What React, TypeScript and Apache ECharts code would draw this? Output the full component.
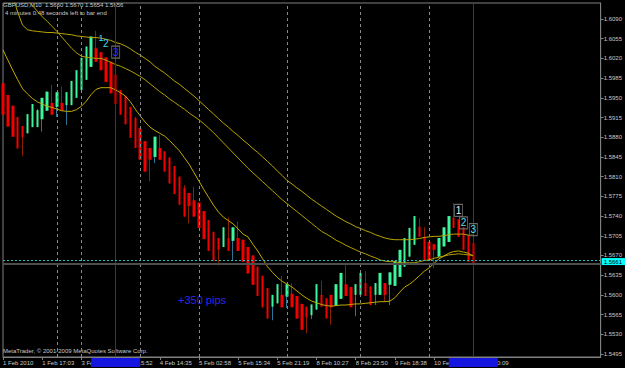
import React, { useEffect, useRef } from "react";
import * as echarts from "echarts";

// ---- data (GBPUSD, M10) ----
const opens = [1.5976,1.5955,1.5936,1.5916,1.5900,1.5887,1.5898,1.5898,1.5912,1.5927,1.5941,1.5934,1.5941,1.5937,1.5937,1.5950,1.5964,1.5982,1.6005,1.6038,1.6031,1.6022,1.6014,1.5991,1.5964,1.5953,1.5934,1.5914,1.5896,1.5873,1.5861,1.5845,1.5861,1.5855,1.5844,1.5829,1.5810,1.5790,1.5781,1.5768,1.5764,1.5749,1.5733,1.5712,1.5701,1.5685,1.5701,1.5696,1.5701,1.5698,1.5685,1.5670,1.5650,1.5634,1.5612,1.5579,1.5585,1.5600,1.5597,1.5602,1.5598,1.5584,1.5579,1.5564,1.5574,1.5600,1.5594,1.5600,1.5581,1.5593,1.5619,1.5614,1.5600,1.5600,1.5621,1.5615,1.5600,1.5600,1.5621,1.5618,1.5616,1.5632,1.5650,1.5668,1.5689,1.5721,1.5703,1.5694,1.5690,1.5668,1.5686,1.5694,1.5737,1.5734,1.5720,1.5706,1.5692];
const closes = [1.5920,1.5899,1.5881,1.5860,1.5880,1.5921,1.5939,1.5928,1.5950,1.5961,1.5920,1.5960,1.5927,1.5960,1.5980,1.5999,1.6021,1.6041,1.6059,1.6014,1.5999,1.5978,1.5958,1.5939,1.5920,1.5903,1.5879,1.5861,1.5840,1.5819,1.5840,1.5881,1.5840,1.5819,1.5798,1.5779,1.5760,1.5739,1.5758,1.5739,1.5719,1.5699,1.5678,1.5660,1.5680,1.5720,1.5678,1.5720,1.5678,1.5659,1.5638,1.5618,1.5598,1.5578,1.5558,1.5600,1.5619,1.5578,1.5619,1.5578,1.5558,1.5538,1.5560,1.5583,1.5619,1.5579,1.5558,1.5578,1.5619,1.5639,1.5598,1.5578,1.5619,1.5639,1.5598,1.5582,1.5621,1.5639,1.5600,1.5640,1.5660,1.5680,1.5701,1.5719,1.5740,1.5703,1.5662,1.5660,1.5680,1.5701,1.5720,1.5740,1.5719,1.5703,1.5680,1.5659,1.5656];
const lows = [1.5920,1.5899,1.5881,1.5860,1.5847,1.5887,1.5898,1.5898,1.5890,1.5927,1.5920,1.5916,1.5927,1.5902,1.5937,1.5950,1.5964,1.5982,1.6005,1.6014,1.5999,1.5978,1.5958,1.5939,1.5920,1.5903,1.5879,1.5861,1.5840,1.5819,1.5802,1.5834,1.5840,1.5819,1.5798,1.5779,1.5760,1.5739,1.5727,1.5739,1.5719,1.5699,1.5678,1.5660,1.5652,1.5685,1.5678,1.5662,1.5678,1.5659,1.5638,1.5618,1.5598,1.5578,1.5558,1.5555,1.5585,1.5578,1.5577,1.5578,1.5558,1.5538,1.5532,1.5557,1.5574,1.5579,1.5558,1.5547,1.5581,1.5593,1.5598,1.5578,1.5562,1.5600,1.5598,1.5582,1.5582,1.5600,1.5589,1.5582,1.5616,1.5632,1.5650,1.5668,1.5689,1.5703,1.5662,1.5660,1.5647,1.5668,1.5686,1.5694,1.5719,1.5703,1.5680,1.5659,1.5656];
const highs = [1.5976,1.5955,1.5936,1.5916,1.5900,1.5921,1.5939,1.5930,1.5950,1.5961,1.5973,1.5960,1.5970,1.5960,1.5980,1.5999,1.6021,1.6041,1.6059,1.6069,1.6031,1.6022,1.6014,1.5991,1.5964,1.5953,1.5934,1.5916,1.5896,1.5873,1.5861,1.5881,1.5884,1.5855,1.5844,1.5829,1.5810,1.5795,1.5781,1.5792,1.5764,1.5749,1.5733,1.5712,1.5701,1.5720,1.5737,1.5720,1.5730,1.5698,1.5685,1.5670,1.5650,1.5634,1.5612,1.5600,1.5619,1.5634,1.5619,1.5621,1.5598,1.5584,1.5579,1.5583,1.5619,1.5625,1.5594,1.5600,1.5619,1.5639,1.5657,1.5614,1.5619,1.5639,1.5642,1.5615,1.5621,1.5639,1.5621,1.5640,1.5660,1.5680,1.5701,1.5719,1.5740,1.5736,1.5720,1.5694,1.5690,1.5701,1.5720,1.5740,1.5763,1.5734,1.5720,1.5706,1.5692];

const maSlow = [1.6177,1.6159,1.6131,1.6102,1.6079,1.6071,1.6069,1.6068,1.6067,1.6066,1.6066,1.6065,1.6064,1.6063,1.6062,1.6060,1.6059,1.6058,1.6057,1.6057,1.6056,1.6054,1.6052,1.6048,1.6046,1.6042,1.6037,1.6031,1.6026,1.6020,1.6014,1.6006,1.6000,1.5994,1.5987,1.5980,1.5974,1.5967,1.5960,1.5953,1.5945,1.5937,1.5929,1.5921,1.5913,1.5905,1.5898,1.5890,1.5883,1.5875,1.5868,1.5860,1.5853,1.5845,1.5837,1.5829,1.5820,1.5812,1.5803,1.5797,1.5790,1.5784,1.5777,1.5770,1.5764,1.5758,1.5752,1.5746,1.5740,1.5735,1.5730,1.5726,1.5721,1.5718,1.5714,1.5711,1.5707,1.5704,1.5701,1.5699,1.5698,1.5698,1.5698,1.5698,1.5699,1.5700,1.5702,1.5703,1.5704,1.5704,1.5705,1.5707,1.5708,1.5708,1.5708,1.5706,1.5706];
const maMid = [1.6213,1.6195,1.6177,1.6159,1.6141,1.6124,1.6114,1.6104,1.6094,1.6086,1.6077,1.6068,1.6058,1.6048,1.6038,1.6030,1.6024,1.6022,1.6021,1.6020,1.6020,1.6017,1.6013,1.6009,1.6006,1.6002,1.5998,1.5993,1.5988,1.5982,1.5975,1.5968,1.5961,1.5955,1.5948,1.5942,1.5936,1.5930,1.5923,1.5917,1.5911,1.5904,1.5896,1.5888,1.5879,1.5870,1.5861,1.5852,1.5843,1.5834,1.5825,1.5817,1.5809,1.5801,1.5793,1.5785,1.5777,1.5769,1.5762,1.5755,1.5748,1.5741,1.5734,1.5727,1.5720,1.5713,1.5708,1.5703,1.5697,1.5693,1.5688,1.5684,1.5680,1.5676,1.5673,1.5669,1.5666,1.5662,1.5660,1.5659,1.5659,1.5657,1.5657,1.5657,1.5657,1.5659,1.5661,1.5662,1.5665,1.5667,1.5669,1.5671,1.5672,1.5673,1.5672,1.5671,1.5670];
const maFast = [1.6035,1.6017,1.5999,1.5982,1.5966,1.5957,1.5949,1.5943,1.5939,1.5935,1.5933,1.5930,1.5927,1.5926,1.5926,1.5929,1.5935,1.5944,1.5956,1.5965,1.5968,1.5968,1.5968,1.5964,1.5959,1.5953,1.5943,1.5930,1.5918,1.5907,1.5898,1.5892,1.5887,1.5882,1.5874,1.5865,1.5856,1.5844,1.5832,1.5817,1.5802,1.5787,1.5773,1.5759,1.5747,1.5738,1.5732,1.5726,1.5717,1.5708,1.5703,1.5690,1.5678,1.5664,1.5650,1.5640,1.5631,1.5624,1.5619,1.5614,1.5607,1.5600,1.5594,1.5589,1.5586,1.5583,1.5581,1.5580,1.5581,1.5582,1.5582,1.5583,1.5584,1.5584,1.5585,1.5586,1.5587,1.5588,1.5588,1.5589,1.5595,1.5605,1.5614,1.5619,1.5626,1.5634,1.5642,1.5648,1.5656,1.5664,1.5669,1.5674,1.5677,1.5678,1.5676,1.5674,1.5669];

const priceTicks = [1.5495,1.5530,1.5565,1.5600,1.5635,1.5670,1.5705,1.5740,1.5775,1.5810,1.5845,1.5880,1.5915,1.5950,1.5985,1.6020,1.6055,1.6090];
const timeLabels: [number, string][] = [
  [0, "1 Feb 2010"], [8, "1 Feb 17:03"], [16, "3 Feb"], [24, "3 Feb 15:52"],
  [32, "4 Feb 14:35"], [40, "5 Feb 02:58"], [48, "5 Feb 15:34"], [56, "5 Feb 21:19"],
  [64, "8 Feb 10:27"], [72, "8 Feb 23:50"], [80, "9 Feb 18:38"], [88, "10 Feb"], [96, "10 Feb 10:09"],
];
const totalSlots = 123;
const separatorBars = [11, 16, 28, 40, 58, 73, 87];
const lineObjectBars = [23, 96];
const bidPrice = 1.5661;
const askLinePrice = 1.5655;
const waveMarks = [
  { bar: 20, price: 1.6057, text: "1" },
  { bar: 21, price: 1.6047, text: "2" },
  { bar: 23, price: 1.6031, text: "3" },
  { bar: 93, price: 1.5750, text: "1" },
  { bar: 94, price: 1.5728, text: "2" },
  { bar: 96, price: 1.5716, text: "3" },
];
const titleLine = "GBPUSD,M10  1.5660 1.5670 1.5654 1.5656";
const timerLine = "4 minutes 0:48 seconds left to bar end";
const copyrightLine = "MetaTrader, \u00a9 2001-2009 MetaQuotes Software Corp.";
const pipsNote = "+350 pips";

// ---- styles ----
const FONT = "Liberation Sans";
const GRAY = "#808080";
const TXT = "#c8c8c8";
const waveStyles = [
  { color: "#3cd8e6", size: 9, boxed: false },
  { color: "#3cd8e6", size: 10, boxed: false },
  { color: "#2b2bff", size: 11, boxed: true },
  { color: "#e8e8e8", size: 10, boxed: true },
  { color: "#5fdcea", size: 10, boxed: true },
  { color: "#5fdcea", size: 10, boxed: true },
];

export default function App() {
  const ref = useRef<HTMLDivElement>(null);
  useEffect(() => {
    document.body.style.margin = "0";
    document.body.style.background = "#000";
    const chart = echarts.init(ref.current!, null, { renderer: "svg" });
    const labelAt = new Map<number, string>(timeLabels);
    const categories = Array.from({ length: totalSlots }, (_, i) => String(i));
    const wickData = opens.map((o, i) => [o, closes[i], lows[i], highs[i]]);
    const bodyData = opens.map((o, i) => [o, closes[i], Math.min(o, closes[i]), Math.max(o, closes[i])]);
    const maLine = (name: string, data: number[], color: string) => ({
      name, type: "line", data, symbol: "none", z: 3, silent: true,
      lineStyle: { color, width: 1 }, clip: true,
    });

    chart.setOption({
      animation: false,
      backgroundColor: "#000000",
      textStyle: { fontFamily: FONT },
      grid: { left: 2, top: 3, width: 600, height: 354, show: true, borderColor: GRAY, borderWidth: 1, backgroundColor: "transparent" },
      xAxis: {
        type: "category", data: categories, boundaryGap: false,
        axisLine: { show: true, lineStyle: { color: GRAY } },
        axisTick: { show: true, length: 3, interval: (i: number) => labelAt.has(i), lineStyle: { color: GRAY } },
        axisLabel: {
          interval: (i: number) => labelAt.has(i),
          formatter: (v: string) => labelAt.get(Number(v)) || "",
          align: "left", color: TXT, fontSize: 6, margin: 3, fontFamily: FONT,
        },
        splitLine: { show: false },
      },
      yAxis: {
        type: "value", position: "right", min: 1.54897, max: 1.61184,
        splitLine: { show: false },
        axisLine: { show: true, lineStyle: { color: GRAY } },
        axisTick: { show: true, length: 3, customValues: priceTicks, lineStyle: { color: GRAY } },
        axisLabel: { customValues: priceTicks, formatter: (v: number) => v.toFixed(4), color: TXT, fontSize: 6, lineHeight: 6, margin: 3, fontFamily: FONT },
      },
      series: [
        {
          name: "wicks", type: "candlestick", data: wickData, barWidth: 1, silent: true,
          itemStyle: { color: "#2d7595", color0: "#8e1e00", borderColor: "#2d7595", borderColor0: "#8e1e00", borderWidth: 1 },
          markLine: {
            silent: true, symbol: "none", label: { show: false }, precision: 5,
            data: [
              ...separatorBars.map((k) => ({ xAxis: String(k), lineStyle: { color: "#8a8a8a", type: [3, 3], width: 1 } })),
              ...lineObjectBars.map((k) => ({ xAxis: String(k), lineStyle: { color: "#2828c8", type: "solid", width: 1 } })),
            ],
          },
        },
        {
          name: "bodies", type: "candlestick", data: bodyData, barWidth: 3, silent: true,
          itemStyle: { color: "#3df59b", color0: "#f50000", borderColor: "#3df59b", borderColor0: "#f50000", borderWidth: 0 },
        },
        maLine("slow", maSlow, "#b9a400"),
        maLine("mid", maMid, "#b2a000"),
        {
          ...maLine("fast", maFast, "#c2aa00"),
          markLine: {
            silent: true, symbol: "none", precision: 5,
            data: [
              { yAxis: askLinePrice, lineStyle: { color: "#4d4d4d", type: "solid", width: 2 }, label: { show: false } },
              {
                yAxis: bidPrice, lineStyle: { color: "#20c0c0", type: [2, 2], width: 1 },
                label: { show: true, position: "end", formatter: bidPrice.toFixed(4), backgroundColor: "#00ffff", color: "#000", fontSize: 6, lineHeight: 6, padding: [1, 3, 0, 2], distance: 1, offset: [0, 1], fontFamily: FONT },
              },
            ],
          },
          markPoint: {
            silent: true,
            data: waveMarks.map((m, i) => {
              const s = waveStyles[i];
              return {
                coord: [String(m.bar), m.price],
                symbol: "rect",
                symbolSize: s.boxed ? [8, 12] : [1, 1],
                itemStyle: s.boxed ? { color: "rgba(0,0,0,0)", borderColor: "#6a6a6a", borderWidth: 1 } : { color: "rgba(0,0,0,0)" },
                label: { show: true, position: "inside", formatter: m.text, color: s.color, fontSize: s.size, fontFamily: FONT },
              };
            }),
          },
        },
      ],
    });

    const boxes = lineObjectBars.map((k) => {
      const x = chart.convertToPixel({ xAxisIndex: 0 }, String(k)) as number;
      return { type: "rect", shape: { x: x - 24.5, y: 358, width: 49, height: 9 }, style: { fill: "#1515e0" }, silent: true, z: 100 };
    });
    chart.setOption({
      graphic: [
        ...boxes,
        { type: "text", left: 3, top: 2, silent: true, style: { text: titleLine, fill: TXT, font: `6px '${FONT}'` } },
        { type: "text", left: 5, top: 10, silent: true, style: { text: timerLine, fill: TXT, font: `6px '${FONT}'` } },
        { type: "text", left: 3, top: 348, silent: true, style: { text: copyrightLine, fill: TXT, font: `6px '${FONT}'` } },
        { type: "text", left: 178, top: 294, silent: true, style: { text: pipsNote, fill: "#2828f0", font: `11px '${FONT}'` } },
      ],
    });
    return () => chart.dispose();
  }, []);
  return <div ref={ref} style={{ position: "absolute", left: 0, top: 0, width: 625, height: 368 }} />;
}
